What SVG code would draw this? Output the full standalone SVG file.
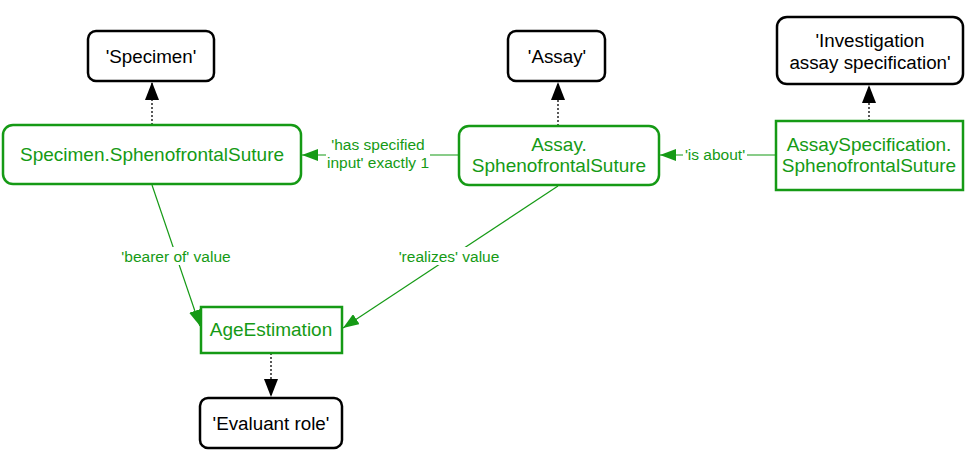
<svg xmlns="http://www.w3.org/2000/svg" width="969" height="461" viewBox="0 0 969 461">
<defs>
<marker id="ag" viewBox="0 0 16 12" refX="16" refY="6" markerWidth="16" markerHeight="12" markerUnits="userSpaceOnUse" orient="auto"><path d="M0,0 L16,6 L0,12 Z" fill="#159a15"/></marker>
<marker id="ab" viewBox="0 0 18 14" refX="18" refY="7" markerWidth="18" markerHeight="14" markerUnits="userSpaceOnUse" orient="auto"><path d="M0,0 L18,7 L0,14 Z" fill="#000"/></marker>
</defs>
<style>
.bn{fill:#fff;stroke:#000;stroke-width:2.5}
.gn{fill:#fff;stroke:#159a15;stroke-width:2.5}
.bt{font-family:"Liberation Sans",Arial,sans-serif;font-size:18.8px;fill:#000;text-anchor:middle}
.gt{font-family:"Liberation Sans",Arial,sans-serif;font-size:19px;fill:#159a15;text-anchor:middle}
.el{font-family:"Liberation Sans",Arial,sans-serif;font-size:15.5px;fill:#159a15;text-anchor:middle}
.ge{stroke:#159a15;stroke-width:1.2;fill:none;marker-end:url(#ag)}
.be{stroke:#000;stroke-width:1.3;stroke-dasharray:2,2;fill:none;marker-end:url(#ab)}
</style>
<rect width="969" height="461" fill="#fff"/>
<g id="connectors">
<line class="be" x1="152" y1="125" x2="152" y2="82"/>
<line class="be" x1="558" y1="126" x2="558" y2="82"/>
<line class="be" x1="869" y1="121" x2="869" y2="85"/>
<line class="be" x1="271" y1="353" x2="271" y2="397"/>
<line class="ge" x1="459" y1="155" x2="302" y2="155"/>
<line class="ge" x1="776" y1="155" x2="660" y2="155"/>
<line class="ge" x1="152" y1="185" x2="200" y2="326"/>
<line class="ge" x1="558" y1="186" x2="343" y2="328"/>
<rect x="326" y="136" width="104" height="36" fill="#fff"/>
<text class="el" x="378" y="150">'has specified</text>
<text class="el" x="378" y="168">input' exactly 1</text>
<rect x="683" y="146" width="64" height="18" fill="#fff"/>
<text class="el" x="715" y="160">'is about'</text>
<rect x="120" y="247" width="112" height="18" fill="#fff"/>
<text class="el" x="176" y="262">'bearer of' value</text>
<rect x="398" y="247" width="102" height="18" fill="#fff"/>
<text class="el" x="449" y="262">'realizes' value</text>
</g>
<g id="specimen">
<rect class="bn" x="88" y="31" width="126" height="50" rx="8"/>
<text class="bt" x="151" y="63">'Specimen'</text>
</g>
<g id="assay">
<rect class="bn" x="508" y="31" width="97" height="50" rx="8"/>
<text class="bt" x="557" y="63">'Assay'</text>
</g>
<g id="investigation">
<rect class="bn" x="777" y="17" width="186" height="67" rx="10"/>
<text class="bt" x="870" y="47">'Investigation</text>
<text class="bt" x="870" y="69">assay specification'</text>
</g>
<g id="specimen-ss">
<rect class="gn" x="3" y="125" width="298" height="59" rx="10"/>
<text class="gt" x="152" y="161">Specimen.SphenofrontalSuture</text>
</g>
<g id="assay-ss">
<rect class="gn" x="459" y="126" width="200" height="59" rx="10"/>
<text class="gt" x="559" y="151">Assay.</text>
<text class="gt" x="559" y="172">SphenofrontalSuture</text>
</g>
<g id="assayspec-ss">
<rect class="gn" x="776" y="121" width="187" height="69"/>
<text class="gt" x="869" y="151">AssaySpecification.</text>
<text class="gt" x="869" y="172">SphenofrontalSuture</text>
</g>
<g id="ageestimation">
<rect class="gn" x="201" y="307" width="141" height="46"/>
<text class="gt" x="271" y="336">AgeEstimation</text>
</g>
<g id="evaluant">
<rect class="bn" x="200" y="398" width="142" height="50" rx="8"/>
<text class="bt" x="271" y="430">'Evaluant role'</text>
</g>
</svg>
